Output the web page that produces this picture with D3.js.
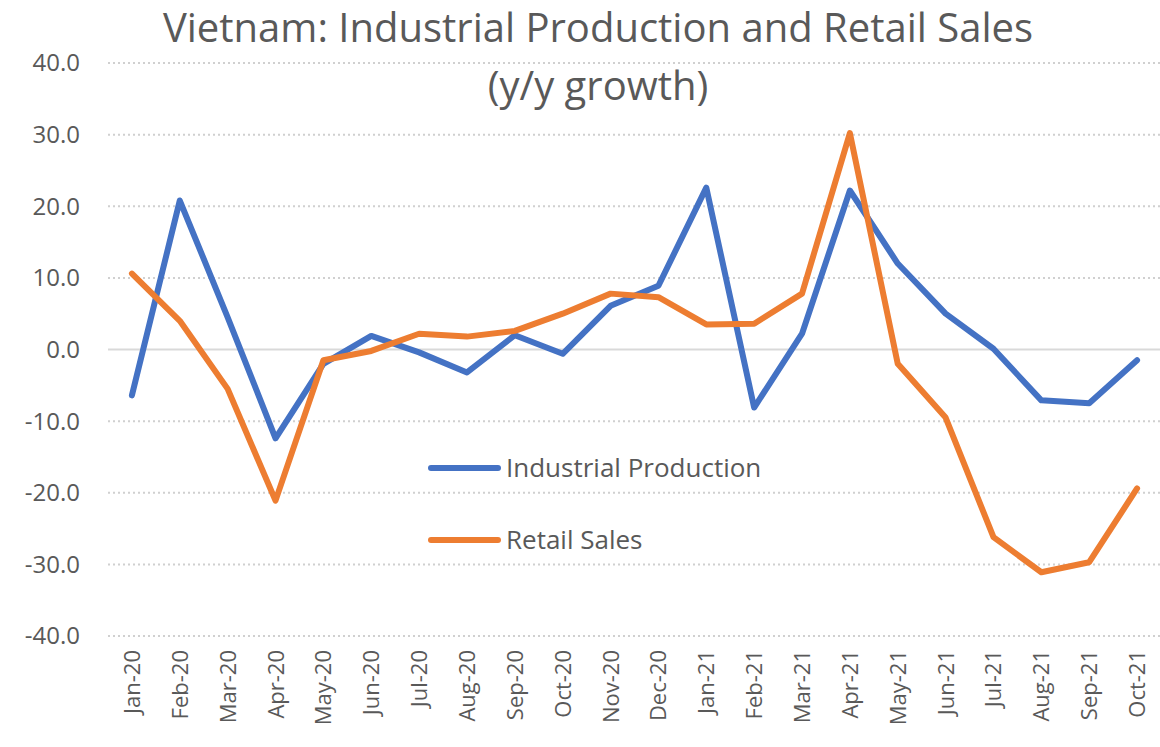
<!DOCTYPE html>
<html>
<head>
<meta charset="utf-8">
<script src="https://cdn.jsdelivr.net/npm/d3@7"></script>
<style>
  body { margin: 0; background: #fff; }
  text { font-family: "Open Sans", "Noto Sans", sans-serif; fill: #595959; }
</style>
</head>
<body>
<div id="chart"></div>
<script>
// months on the x axis
var months = ["Jan-20","Feb-20","Mar-20","Apr-20","May-20","Jun-20","Jul-20","Aug-20","Sep-20","Oct-20","Nov-20","Dec-20",
              "Jan-21","Feb-21","Mar-21","Apr-21","May-21","Jun-21","Jul-21","Aug-21","Sep-21","Oct-21"];
var industrial = [-6.4, 20.8, 4.5, -12.4, -2.0, 1.9, -0.4, -3.2, 2.0, -0.6, 6.1, 8.9,
                  22.6, -8.1, 2.2, 22.2, 12.0, 5.0, 0.1, -7.1, -7.5, -1.5];
var retail = [10.6, 4.0, -5.5, -21.1, -1.5, -0.2, 2.2, 1.8, 2.6, 5.0, 7.8, 7.3,
              3.5, 3.6, 7.8, 30.2, -2.0, -9.5, -26.2, -31.1, -29.7, -19.4];
var yTicks = [40, 30, 20, 10, 0, -10, -20, -30, -40];

var w = 1160;
var h = 747;

var svg = d3.select("#chart")
    .append("svg")
    .attr("width", w)
    .attr("height", h);

var x = d3.scalePoint()
    .domain(months)
    .range([108, 1161])
    .padding(0.5);

var y = d3.scaleLinear()
    .domain([-40, 40])
    .range([636, 63]);

// gridlines, zero line solid
svg.selectAll("line.grid")
    .data(yTicks)
    .enter()
    .append("line")
    .attr("class", "grid")
    .attr("x1", 108)
    .attr("x2", w)
    .attr("y1", function(d) { return y(d); })
    .attr("y2", function(d) { return y(d); })
    .attr("stroke", function(d) { return d === 0 ? "#d9d9d9" : "#d0d0d0"; })
    .attr("stroke-width", 2)
    .attr("stroke-dasharray", function(d) { return d === 0 ? null : "2,3"; });

// y labels (plain hyphen like the original)
svg.selectAll("text.ylab")
    .data(yTicks)
    .enter()
    .append("text")
    .attr("class", "ylab")
    .attr("x", 80)
    .attr("y", function(d) { return y(d); })
    .attr("dy", "0.35em")
    .attr("text-anchor", "end")
    .style("font-size", "24px")
    .text(function(d) { return d.toFixed(1); });

// x labels
svg.selectAll("text.xlab")
    .data(months)
    .enter()
    .append("text")
    .attr("class", "xlab")
    .attr("transform", function(d) { return "translate(" + (x(d) + 8) + ",650) rotate(-90)"; })
    .attr("text-anchor", "end")
    .style("font-size", "22px")
    .text(function(d) { return d; });

var line = d3.line()
    .x(function(d, i) { return x(months[i]); })
    .y(function(d) { return y(d); });

svg.append("path")
    .datum(industrial)
    .attr("d", line)
    .attr("fill", "none")
    .attr("stroke", "#4472C4")
    .attr("stroke-width", 6)
    .attr("stroke-linejoin", "round")
    .attr("stroke-linecap", "round");

svg.append("path")
    .datum(retail)
    .attr("d", line)
    .attr("fill", "none")
    .attr("stroke", "#ED7D31")
    .attr("stroke-width", 6)
    .attr("stroke-linejoin", "round")
    .attr("stroke-linecap", "round");

// title
svg.append("text")
    .attr("x", 598)
    .attr("y", 42)
    .attr("text-anchor", "middle")
    .style("font-size", "40px")
    .text("Vietnam: Industrial Production and Retail Sales");
svg.append("text")
    .attr("x", 598)
    .attr("y", 100)
    .attr("text-anchor", "middle")
    .style("font-size", "40px")
    .text("(y/y growth)");

// legend
var legend = [
    {name: "Industrial Production", color: "#4472C4", y: 468},
    {name: "Retail Sales", color: "#ED7D31", y: 540}
];
legend.forEach(function(l) {
    svg.append("line")
        .attr("x1", 431).attr("x2", 498)
        .attr("y1", l.y).attr("y2", l.y)
        .attr("stroke", l.color)
        .attr("stroke-width", 6)
        .attr("stroke-linecap", "round");
    svg.append("text")
        .attr("x", 506)
        .attr("y", l.y)
        .attr("dy", "0.35em")
        .style("font-size", "26px")
        .text(l.name);
});
</script>
</body>
</html>
